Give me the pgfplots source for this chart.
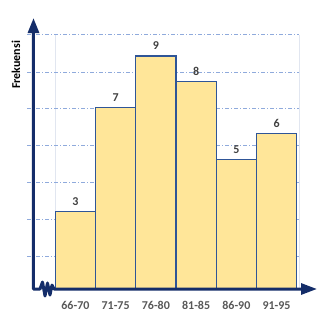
\documentclass[border=0pt]{standalone}
\usepackage{pgfplots}
\pgfplotsset{compat=1.18}
\usepackage{fontspec}
\setmainfont{Carlito}
\usetikzlibrary{arrows.meta}
\definecolor{barfill}{RGB}{255,230,153}
\definecolor{barline}{RGB}{47,85,151}
\definecolor{navy}{RGB}{20,45,105}
\definecolor{gridblue}{RGB}{143,170,220}
\definecolor{faint}{RGB}{225,230,240}
\definecolor{valgrey}{RGB}{64,64,64}
\definecolor{tickgrey}{RGB}{89,89,89}
\begin{document}
\begin{tikzpicture}
\begin{axis}[
  width=328pt, height=324pt, scale only axis,
  xmin=-1.3746, xmax=6.7785, ymin=-1.3514, ymax=11.158,
  axis lines=none, ticks=none, clip=false,
]
\coordinate (bl) at (rel axis cs:0,0);
\coordinate (tr) at (rel axis cs:1,1);
% decorative grid
\draw[faint, line width=0.8pt] (axis cs:0,9.81) -- (axis cs:0,0);
\draw[faint, line width=0.8pt] (axis cs:6.06,9.81) -- (axis cs:6.06,0);
\draw[gridblue, line width=0.9pt, dash pattern=on 4pt off 2pt on 1pt off 2pt] (axis cs:-0.70,9.81) -- (axis cs:6.06,9.81);
\draw[gridblue, line width=0.9pt, dash pattern=on 4pt off 2pt on 1pt off 2pt] (axis cs:-0.70,8.35) -- (axis cs:6.06,8.35);
\draw[gridblue, line width=0.9pt, dash pattern=on 4pt off 2pt on 1pt off 2pt] (axis cs:-0.70,6.96) -- (axis cs:6.06,6.96);
\draw[gridblue, line width=0.9pt, dash pattern=on 4pt off 2pt on 1pt off 2pt] (axis cs:-0.70,5.55) -- (axis cs:6.06,5.55);
\draw[gridblue, line width=0.9pt, dash pattern=on 4pt off 2pt on 1pt off 2pt] (axis cs:-0.70,4.10) -- (axis cs:6.06,4.10);
\draw[gridblue, line width=0.9pt, dash pattern=on 4pt off 2pt on 1pt off 2pt] (axis cs:-0.70,2.69) -- (axis cs:6.06,2.69);
\draw[gridblue, line width=0.9pt, dash pattern=on 4pt off 2pt on 1pt off 2pt] (axis cs:-0.70,1.27) -- (axis cs:6.06,1.27);
% bars
\addplot[ybar interval, fill=barfill, draw=barline, line width=1.3pt]
  coordinates {(0,3) (1,7) (2,9) (3,8) (4,5) (5,6) (6,6)};
% value labels
\addplot[draw=none, mark=none, nodes near coords, point meta=explicit symbolic,
  every node near coord/.style={anchor=south, inner sep=0pt, yshift=6pt,
    font=\bfseries\fontsize{12}{12}\selectfont, text=valgrey}]
  coordinates {(0.5,3)[3] (1.5,7)[7] (2.5,9)[9] (3.5,8)[8] (4.5,5)[5] (5.5,6)[6]};
% category labels
\addplot[draw=none, mark=none, nodes near coords, point meta=explicit symbolic,
  every node near coord/.style={anchor=base, inner sep=0pt,
    font=\bfseries\fontsize{12}{12}\selectfont, text=tickgrey}]
  coordinates {(0.5,-0.81)[66-70] (1.5,-0.81)[71-75] (2.5,-0.81)[76-80] (3.5,-0.81)[81-85] (4.5,-0.81)[86-90] (5.5,-0.81)[91-95]};
% axes with break
\draw[navy, line width=3pt, line join=round,
  {Triangle[length=15pt,width=11pt]}-{Triangle[length=16pt,width=11pt]}]
  (axis cs:-0.542,10.46) -- (axis cs:-0.542,0) -- (axis cs:-0.380,0)
  -- (axis cs:-0.318,0.270) -- (axis cs:-0.256,-0.270) -- (axis cs:-0.194,0.232)
  -- (axis cs:-0.132,-0.232) -- (axis cs:-0.082,0.154) -- (axis cs:-0.032,0)
  -- (axis cs:6.505,0);
\node[rotate=90, font=\bfseries\fontsize{12}{12}\selectfont] at (axis cs:-0.977,8.65) {Frekuensi};
\end{axis}
\path (bl) rectangle (tr);
\end{tikzpicture}
\end{document}
